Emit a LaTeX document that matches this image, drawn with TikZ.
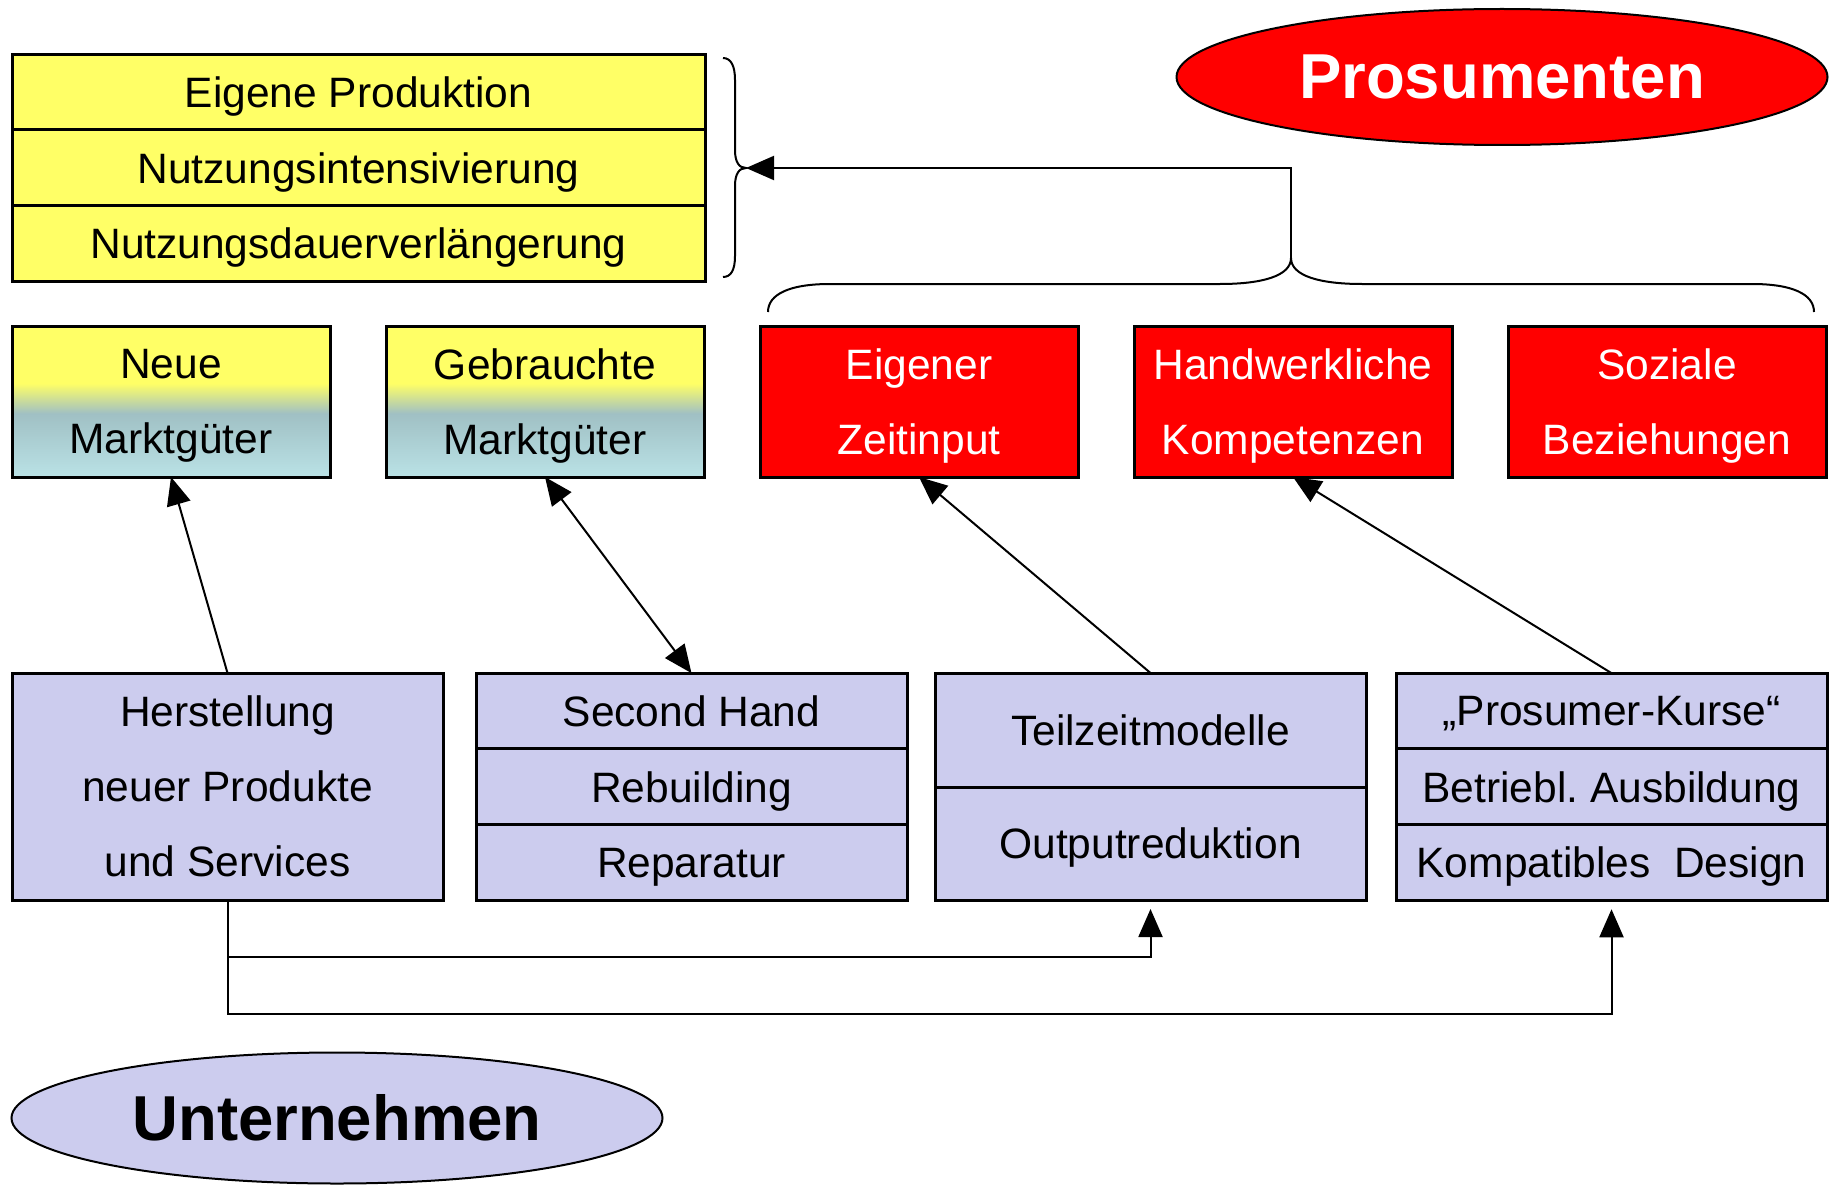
\documentclass[tikz,border=0pt]{standalone}
\usepackage{fontspec}
\setmainfont{Liberation Sans}
\usetikzlibrary{positioning,arrows.meta,shapes.geometric}
\definecolor{boxyellow}{RGB}{255,255,102}
\definecolor{boxlav}{RGB}{204,204,238}
\definecolor{boxred}{RGB}{255,0,0}
\definecolor{gradmid}{RGB}{160,192,196}
\definecolor{gradbot}{RGB}{186,226,230}
\pgfdeclareverticalshading{marktgrad}{100bp}{color(0bp)=(gradbot); color(25bp)=(gradbot); color(46bp)=(gradmid); color(56bp)=(boxyellow); color(100bp)=(boxyellow)}
\newcommand\cellfont{\fontsize{42.5}{75}\selectfont}
\tikzset{
  cell/.style={draw, line width=3pt, inner sep=0pt, outer sep=0pt, align=center,
    text depth=0pt, font=\cellfont},
  ycell/.style={cell, fill=boxyellow, minimum width=693pt, minimum height=75.7pt},
  gcell/.style={cell, shading=marktgrad, minimum width=318pt, minimum height=151pt},
  rcell/.style={cell, fill=boxred, text=white, minimum width=318pt, minimum height=151pt},
  lcell/.style={cell, fill=boxlav, minimum width=431pt, minimum height=75.7pt},
  oval/.style={ellipse, draw, line width=2pt, inner sep=0pt, minimum width=651pt,
    font=\bfseries\fontsize{63.5}{70}\selectfont},
  conn/.style={line width=2pt, -{Triangle[length=28pt,width=24pt]}},
  bconn/.style={line width=2pt, {Triangle[length=28pt,width=24pt]}-{Triangle[length=28pt,width=24pt]}},
  brc/.style={line width=2pt}
}
\begin{document}
\frenchspacing
\begin{tikzpicture}[x=1pt,y=-1pt]
  \useasboundingbox (0,0) rectangle (1830,1185);
  % ovals
  \node[oval, fill=boxred, text=white, minimum height=136pt] (pros) at (1502,77) {Prosumenten};
  \node[oval, fill=boxlav, minimum height=131pt] (unt) at (337,1118) {Unternehmen};
  % yellow stack
  \node[ycell] (ep) at (358.5,92) {Eigene Produktion};
  \node[ycell, below=0pt of ep] (ni) {Nutzungsintensivierung};
  \node[ycell, below=0pt of ni] (nd) {Nutzungsdauerverlängerung};
  % second row
  \node[gcell] (nm) at (171,401.5) {Neue\\Marktgüter};
  \node[gcell, right=56pt of nm] (gm) {Gebrauchte\\Marktgüter};
  \node[rcell, right=56pt of gm] (ez) {Eigener\\Zeitinput};
  \node[rcell, right=56pt of ez] (hk) {Handwerkliche\\Kompetenzen};
  \node[rcell, right=56pt of hk] (sb) {Soziale\\Beziehungen};
  % third row
  \node[lcell, minimum height=227pt] (hs) at (227.5,786.5) {Herstellung\\neuer Produkte\\und Services};
  \node[lcell] (sh) at (691.5,711) {Second Hand};
  \node[lcell, below=0pt of sh] (rb) {Rebuilding};
  \node[lcell, below=0pt of rb] (rp) {Reparatur};
  \node[lcell, minimum height=114pt] (tz) at (1150.5,730) {Teilzeitmodelle};
  \node[lcell, minimum height=113pt, below=0pt of tz] (orr) {Outputreduktion};
  \node[lcell] (pk) at (1611.5,711) {„Prosumer-Kurse“};
  \node[lcell, below=0pt of pk] (bs) {Betriebl. Ausbildung};
  \node[lcell, below=0pt of bs] (kd) {Kompatibles\ \ Design};
  % braces
  \coordinate (ytip) at (746,168);
  \coordinate (htip) at (1291,258);
  \draw[brc] (723,58) .. controls (731,58) and (735,66) .. (735,80) -- (735,150)
    .. controls (735,162) and (739,168) .. (ytip)
    .. controls (739,168) and (735,174) .. (735,186) -- (735,256)
    .. controls (735,270) and (731,277) .. (723,277);
  \draw[brc] (768,312) .. controls (768,294) and (790,284) .. (830,284) -- (1220,284)
    .. controls (1262,284) and (1291,276) .. (htip)
    .. controls (1291,276) and (1320,284) .. (1362,284) -- (1752,284)
    .. controls (1792,284) and (1814,294) .. (1814,312);
  % connectors
  \draw[conn] (htip) |- (ytip);
  \draw[conn] (hs.north) -- (nm.south);
  \draw[bconn] (gm.south) -- (sh.north);
  \draw[conn] (tz.north) -- (ez.south);
  \draw[conn] (pk.north) -- (hk.south);
  \draw[conn, shorten >=9pt] (hs.south) -- ++(0,57) -| (orr.south);
  \draw[conn, shorten >=9pt] (hs.south) -- ++(0,114) -| (kd.south);
\end{tikzpicture}
\end{document}
